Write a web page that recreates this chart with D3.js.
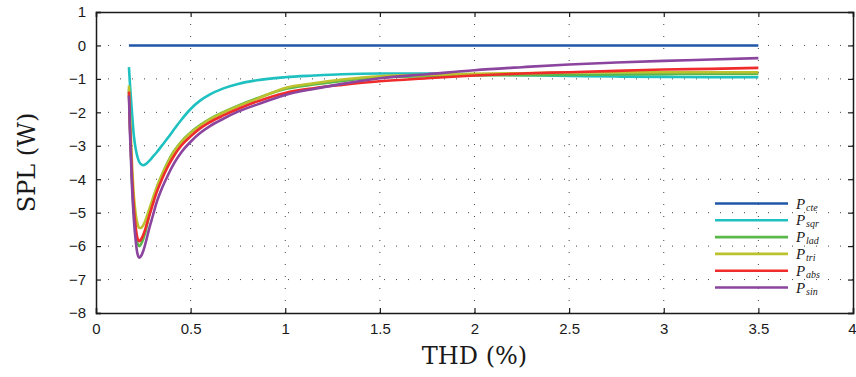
<!DOCTYPE html>
<html>
<head>
<meta charset="utf-8">
<script src="https://cdn.jsdelivr.net/npm/d3@7"></script>
<style>
  html, body { margin: 0; padding: 0; background: #fff; }
  svg { display: block; }
</style>
</head>
<body>
<svg id="chart" width="856" height="377"></svg>
<script>
// ---- data ----
const thd = [0.174, 0.18, 0.19, 0.20, 0.21, 0.22, 0.23, 0.24, 0.25, 0.26, 0.28, 0.30, 0.32, 0.35, 0.38, 0.41, 0.45, 0.5, 0.55, 0.6, 0.67, 0.75, 0.85, 1.0, 1.15, 1.3, 1.5, 1.75, 2.0, 2.25, 2.5, 2.75, 3.0, 3.25, 3.5];

const P_cte = [0,0,0,0,0,0,0,0,0,0,0,0,0,0,0,0,0,0,0,0,0,0,0,0,0,0,0,0,0,0,0,0,0,0,0];
const P_sqr = [-0.65,-1.2,-2.0,-2.7,-3.1,-3.35,-3.5,-3.56,-3.58,-3.56,-3.46,-3.33,-3.2,-2.98,-2.76,-2.53,-2.23,-1.9,-1.65,-1.47,-1.29,-1.15,-1.04,-0.95,-0.9,-0.86,-0.84,-0.84,-0.86,-0.89,-0.91,-0.93,-0.94,-0.95,-0.95];
const P_lad = [-1.3,-2.5,-4.0,-5.0,-5.6,-5.93,-6.0,-5.92,-5.78,-5.6,-5.1,-4.65,-4.28,-3.85,-3.48,-3.18,-2.88,-2.6,-2.38,-2.2,-2.0,-1.8,-1.58,-1.3,-1.17,-1.06,-0.95,-0.92,-0.9,-0.89,-0.88,-0.87,-0.86,-0.85,-0.85];
const P_tri = [-1.2,-2.2,-3.5,-4.5,-5.05,-5.35,-5.46,-5.45,-5.37,-5.25,-4.92,-4.58,-4.25,-3.85,-3.5,-3.2,-2.9,-2.62,-2.4,-2.22,-2.02,-1.82,-1.6,-1.27,-1.13,-1.02,-0.92,-0.88,-0.85,-0.83,-0.81,-0.8,-0.8,-0.8,-0.8];
const P_abs = [-1.38,-2.5,-3.9,-4.85,-5.45,-5.78,-5.85,-5.78,-5.66,-5.5,-5.12,-4.75,-4.4,-3.98,-3.62,-3.32,-3.0,-2.72,-2.48,-2.3,-2.1,-1.9,-1.68,-1.42,-1.28,-1.18,-1.07,-0.98,-0.9,-0.84,-0.8,-0.76,-0.72,-0.7,-0.67];
const P_sin = [-1.5,-2.7,-4.2,-5.2,-5.85,-6.25,-6.35,-6.28,-6.14,-5.95,-5.5,-5.1,-4.7,-4.25,-3.88,-3.55,-3.2,-2.88,-2.62,-2.42,-2.2,-1.98,-1.77,-1.48,-1.3,-1.15,-0.98,-0.86,-0.74,-0.65,-0.57,-0.51,-0.46,-0.42,-0.38];

const seriesNames = ["cte", "sqr", "lad", "tri", "abs", "sin"];
const seriesValues = [P_cte, P_sqr, P_lad, P_tri, P_abs, P_sin];
const seriesColors = ["#1f56a8", "#1fc0c0", "#5ab74a", "#bcc22e", "#ef2b2b", "#8b459e"];

const xTicks = [0, 0.5, 1, 1.5, 2, 2.5, 3, 3.5, 4];
const yTicks = [1, 0, -1, -2, -3, -4, -5, -6, -7, -8];

// ---- layout ----
const L = 96, R = 853, T = 12, B = 313;
const svg = d3.select("#chart");
const x = d3.scaleLinear().domain([0, 4]).range([L, R]);
const y = d3.scaleLinear().domain([-8, 1]).range([B, T]);

// grid
const grid = svg.append("g").attr("stroke", "#444").attr("stroke-width", 1).attr("stroke-dasharray", "1,11");
xTicks.slice(1, -1).forEach(v => {
  grid.append("line").attr("x1", x(v)).attr("x2", x(v)).attr("y1", B).attr("y2", T);
});
yTicks.slice(1, -1).forEach(v => {
  grid.append("line").attr("x1", L).attr("x2", R).attr("y1", y(v)).attr("y2", y(v));
});

// lines
const line = d3.line().x((d, i) => x(thd[i])).y(d => y(d)).curve(d3.curveMonotoneX);
seriesValues.forEach((vals, k) => {
  svg.append("path").datum(vals).attr("d", line)
    .attr("fill", "none").attr("stroke", seriesColors[k]).attr("stroke-width", 2.6)
    .attr("stroke-linejoin", "round");
});

// axes (inward ticks on all sides)
const fmt = v => (v < 0 ? "\u2212" + Math.abs(v) : String(v));
const axB = d3.axisBottom(x).tickValues(xTicks).tickSize(-5).tickPadding(10).tickFormat(fmt);
const axT = d3.axisTop(x).tickValues(xTicks).tickSize(-5).tickFormat("");
const axL = d3.axisLeft(y).tickValues(yTicks).tickSize(-5).tickPadding(10).tickFormat(fmt);
const axR = d3.axisRight(y).tickValues(yTicks).tickSize(-5).tickFormat("");

function style(g) {
  g.select(".domain").attr("stroke", "#1a1a1a").attr("stroke-width", 1.5);
  g.selectAll(".tick line").attr("stroke", "#1a1a1a").attr("stroke-width", 1.2);
  g.selectAll(".tick text").attr("fill", "#1a1a1a").style("font-family", "'Liberation Sans', Arial, sans-serif").style("font-size", "15px");
}
const gB = svg.append("g").attr("transform", `translate(0,${B})`).call(axB).call(style);
svg.append("g").attr("transform", `translate(0,${T})`).call(axT).call(style);
svg.append("g").attr("transform", `translate(${L},0)`).call(axL).call(style);
svg.append("g").attr("transform", `translate(${R},0)`).call(axR).call(style);
// keep the last x label inside the canvas
gB.selectAll(".tick text").filter(d => d === 4).attr("text-anchor", "end").attr("dx", 3);

// axis titles
svg.append("text").attr("x", (L + R) / 2).attr("y", 364).attr("text-anchor", "middle")
  .style("font-family", "'DejaVu Serif', 'Liberation Serif', serif").style("font-size", "24px").attr("fill", "#1a1a1a")
  .text("THD (%)");
svg.append("text").attr("transform", `translate(35,${(T + B) / 2}) rotate(-90)`).attr("text-anchor", "middle")
  .style("font-family", "'DejaVu Serif', 'Liberation Serif', serif").style("font-size", "24px").attr("fill", "#1a1a1a")
  .text("SPL (W)");

// legend
const legY0 = 203.5, legDY = 16.8;
const serif = "'Liberation Serif', 'DejaVu Serif', serif";
seriesNames.forEach((name, k) => {
  const yy = legY0 + k * legDY;
  svg.append("line").attr("x1", 715).attr("x2", 788).attr("y1", yy).attr("y2", yy)
    .attr("stroke", seriesColors[k]).attr("stroke-width", 2.6);
  svg.append("text").attr("x", 796).attr("y", yy + 5)
    .style("font-family", serif).style("font-style", "italic")
    .style("font-size", "15px").attr("fill", "#1a1a1a").text("P");
  svg.append("text").attr("x", 806).attr("y", yy + 7)
    .style("font-family", serif).style("font-style", "italic")
    .style("font-size", "10px").attr("fill", "#1a1a1a").text(name);
});
</script>
</body>
</html>
